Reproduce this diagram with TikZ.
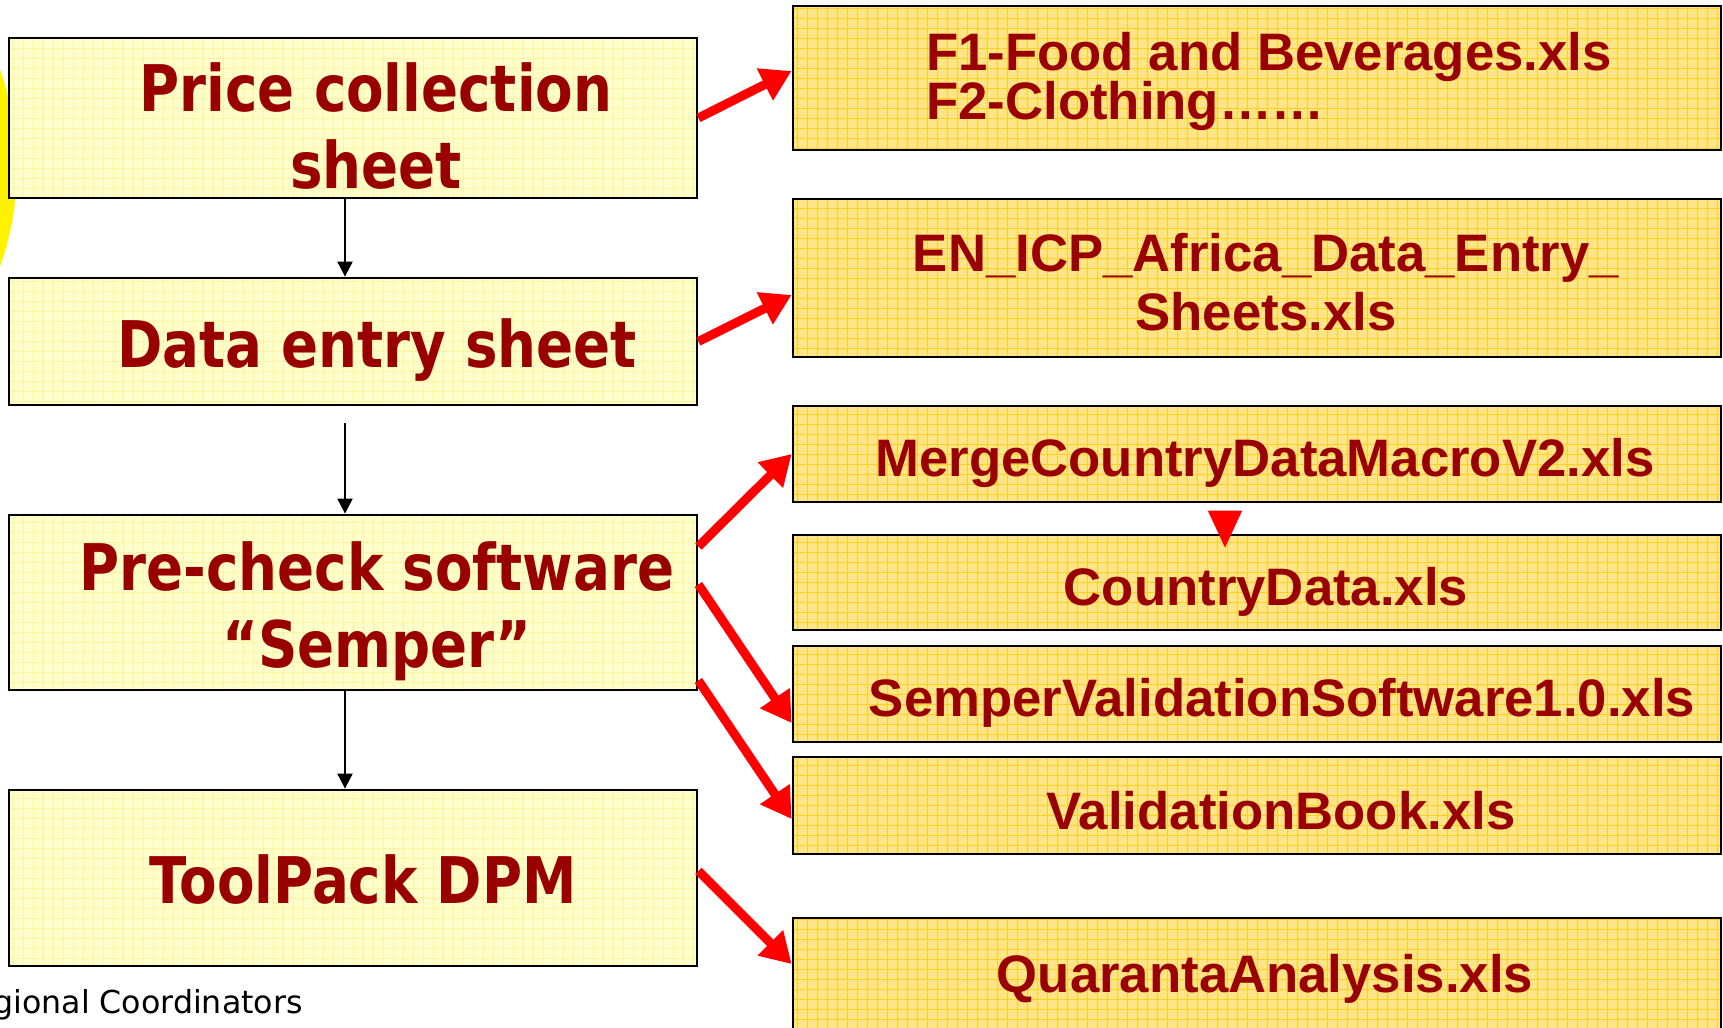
\documentclass[tikz,border=0pt]{standalone}
\usepackage{fontspec}
\usetikzlibrary{arrows.meta}
\newfontfamily\sheetfont{DejaVu Sans}[FakeStretch=0.85]
\newfontfamily\filefont{Liberation Sans}
\newfontfamily\notefont{DejaVu Sans}
\definecolor{textred}{HTML}{990000}
\definecolor{paleyellow}{HTML}{FFFFCC}
\definecolor{paleline}{HTML}{FFF3A0}
\definecolor{goldfill}{HTML}{FFE48A}
\definecolor{goldline}{HTML}{FFD11A}
\definecolor{arrowred}{HTML}{FF0000}
\begin{document}
\begin{tikzpicture}[x=0.1mm,y=-0.1mm,
    sheet/.style={draw=black,line width=0.8pt,fill=paleyellow,minimum width=68.8mm,
        path picture={\draw[paleline,line width=0.25pt,step=1mm] (path picture bounding box.south west) grid (path picture bounding box.north east);}},
    sheettext/.style={align=center,text=textred,font=\sheetfont\bfseries\fontsize{18.3}{21.8}\selectfont},
    file/.style={draw=black,line width=0.8pt,fill=goldfill,minimum width=92.8mm,
        path picture={\draw[goldline,line width=0.25pt,step=1mm] (path picture bounding box.south west) grid (path picture bounding box.north east);}},
    filetext/.style={align=center,text=textred,font=\filefont\bfseries\fontsize{15}{16.7}\selectfont},
    flow/.style={line width=0.6pt,-{Triangle[length=1.5mm,width=1.5mm]}},
    link/.style={arrowred,line width=0.9mm,-{Triangle[length=3mm,width=3.4mm]}}]
        \useasboundingbox (0,0) rectangle (1723,1027);
        \fill[yellow] (-277,168) circle (29.4mm);
        \node[sheet,minimum height=16mm] (pcs) at (353,118) {};
        \node[sheet,minimum height=12.7mm] (des) at (353,341.5) {};
        \node[sheet,minimum height=17.5mm] (pre) at (353,602.5) {};
        \node[sheet,minimum height=17.6mm] (tool) at (353,878) {};
        \node[sheettext] (pcstext) at ([xshift=2.3mm,yshift=-0.8mm]pcs.center) {Price collection\\sheet};
        \node[sheettext] (destext) at ([xshift=2.4mm,yshift=-0.9mm]des.center) {Data entry sheet};
        \node[sheettext] (pretext) at ([xshift=2.4mm,yshift=-0.9mm]pre.center) {Pre-check software\\“Semper”};
        \node[sheettext] (tooltext) at ([xshift=1mm,yshift=-0.2mm]tool.center) {ToolPack DPM};
        \node[file,minimum height=14.4mm] (food) at (1257,78) {};
        \node[file,minimum height=15.8mm] (entry) at (1257,278) {};
        \node[file,minimum height=9.6mm] (merge) at (1257,454) {};
        \node[file,minimum height=9.5mm] (country) at (1257,582.5) {};
        \node[file,minimum height=9.6mm] (semper) at (1257,694) {};
        \node[file,minimum height=9.7mm] (vbook) at (1257,805.5) {};
        \node[file,minimum height=12.2mm] (quar) at (1257,979) {};
        \node[filetext,align=left,font=\filefont\bfseries\fontsize{15}{14.2}\selectfont] (foodtext) at ([xshift=1.2mm,yshift=-0.35mm]food.center) {F1-Food and Beverages.xls\\F2-Clothing……};
        \node[filetext] (entrytext) at ([xshift=0.9mm,yshift=-0.45mm]entry.center) {EN\_ICP\_Africa\_Data\_Entry\_\\Sheets.xls};
        \node[filetext] (mergetext) at ([xshift=0.8mm,yshift=-0.9mm]merge.center) {MergeCountryDataMacroV2.xls};
        \node[filetext] (countrytext) at ([xshift=0.9mm,yshift=-0.9mm]country.center) {CountryData.xls};
        \node[filetext] (sempertext) at ([xshift=2.5mm,yshift=-0.9mm]semper.center) {SemperValidationSoftware1.0.xls};
        \node[filetext] (vbooktext) at ([xshift=2.4mm,yshift=-0.55mm]vbook.center) {ValidationBook.xls};
        \node[filetext] (quartext) at ([xshift=0.8mm]quar.center) {QuarantaAnalysis.xls};
        \node[anchor=east,font=\notefont\fontsize{9}{11}\selectfont] (note) at (315,1005) {Regional Coordinators};
        \draw[flow] ([xshift=-0.8mm]pcs.south) -- ([xshift=-0.8mm]des.north);
        \draw[flow] ([xshift=-0.8mm,yshift=-1.7mm]des.south) -- ([xshift=-0.8mm]pre.north);
        \draw[flow] ([xshift=-0.8mm]pre.south) -- ([xshift=-0.8mm]tool.north);
        \draw[link] (pcs.east) -- ([yshift=0.7mm]food.west);
        \draw[link] (des.east) -- ([yshift=-1.7mm]entry.west);
        \draw[link] ([yshift=5.6mm]pre.east) -- (merge.west);
        \draw[link] ([yshift=1.8mm]pre.east) -- ([yshift=-2.9mm]semper.west);
        \draw[link] ([yshift=-7.8mm]pre.east) -- ([yshift=-1.35mm]vbook.west);
        \draw[link] ([yshift=0.7mm]tool.east) -- ([yshift=1.5mm]quar.west);
        \draw[arrowred,line width=0.4pt,-{Triangle[length=3.7mm,width=3.4mm]}] ([xshift=-3.2mm,yshift=-1mm]merge.south) -- ([xshift=-3.2mm,yshift=-1.4mm]country.north);
    \end{tikzpicture}
\end{document}
